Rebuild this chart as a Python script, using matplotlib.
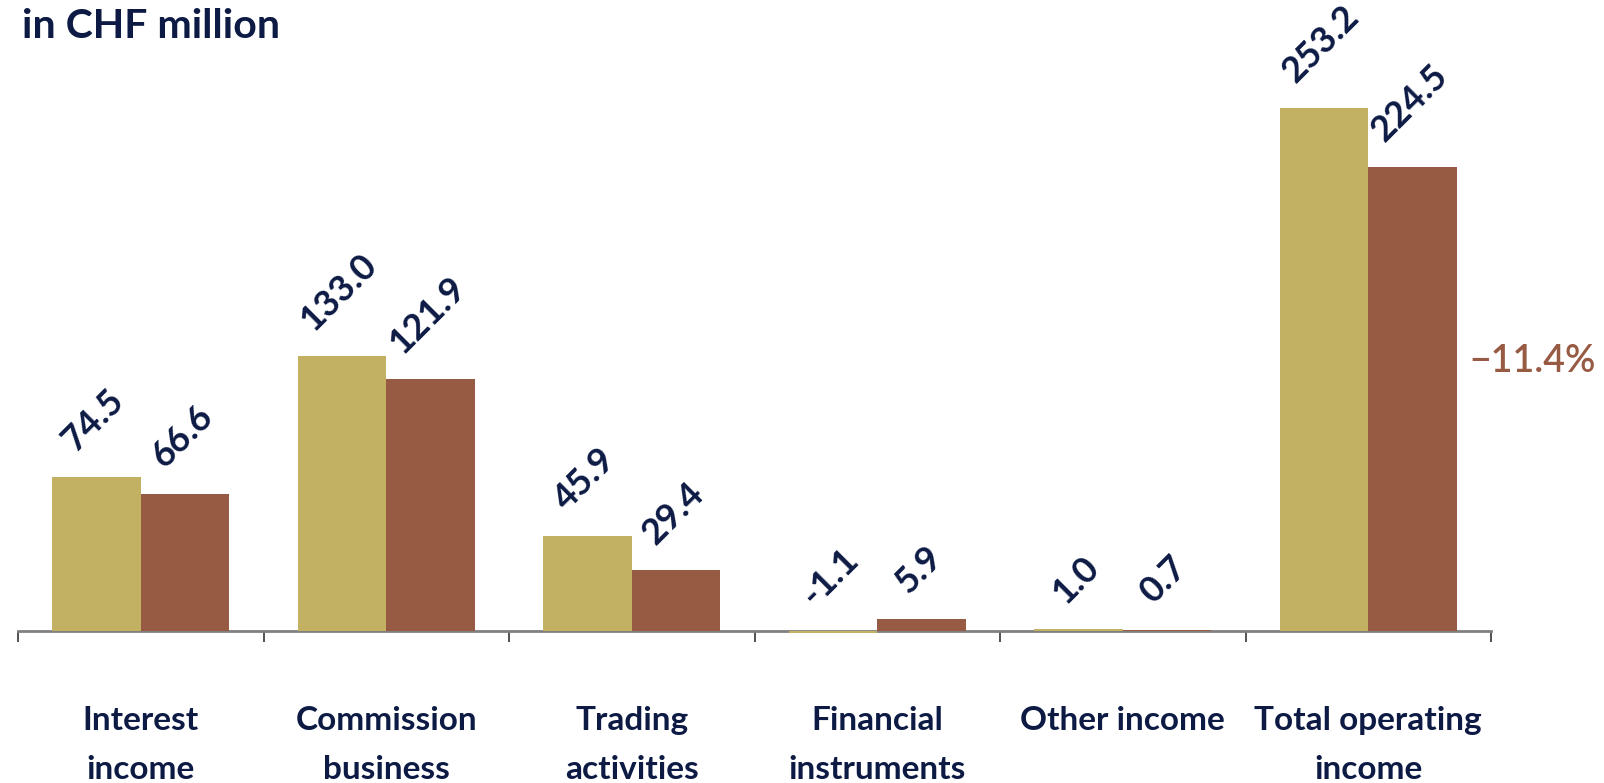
import numpy as np
import matplotlib.pyplot as plt
from matplotlib.transforms import offset_copy

# data
categories = ["Interest\nincome", "Commission\nbusiness", "Trading\nactivities",
              "Financial\ninstruments", "Other income", "Total operating\nincome"]
prev_year = [74.5, 133.0, 45.9, -1.1, 1.0, 253.2]
curr_year = [66.6, 121.9, 29.4, 5.9, 0.7, 224.5]
labels_prev = ["74.5", "133.0", "45.9", "-1.1", "1.0", "253.2"]
labels_curr = ["66.6", "121.9", "29.4", "5.9", "0.7", "224.5"]
change_text = "\u221211.4%"

navy = "#0c1a44"
gold = "#c3b163"
brown = "#975a43"

plt.rcParams['font.family'] = ['Lato', 'DejaVu Sans']

fig = plt.figure(figsize=(16.04, 7.83), dpi=100)
ax = fig.add_axes([18 / 1604, 0.1677, (1491 - 18) / 1604, 0.8176])

x = np.arange(len(categories))
w = 0.36
ax.bar(x - w / 2, prev_year, w, color=gold, zorder=3)
ax.bar(x + w / 2, curr_year, w, color=brown, zorder=3)

ax.set_xlim(-0.5, len(categories) - 0.5)
ax.set_ylim(-10, 300)

for s in ["top", "right", "left"]:
    ax.spines[s].set_visible(False)
ax.spines["bottom"].set_position(("data", 0))
ax.spines["bottom"].set_color("#808080")
ax.spines["bottom"].set_linewidth(2)
ax.set_yticks([])
ax.set_xticks(np.arange(-0.5, len(categories), 1.0))
ax.set_xticklabels([])
ax.tick_params(axis="x", which="major", direction="out", length=8, width=1.2, color="#333333")
ax.set_xticks(x, minor=True)
ax.set_xticklabels(categories, minor=True, fontsize=24, fontweight="bold",
                   color=navy, linespacing=1.82, va="top")
ax.tick_params(axis="x", which="minor", length=0, pad=54)

# value labels, centred over each bar
for i in range(len(categories)):
    for off, v, lab in [(-w / 2, prev_year[i], labels_prev[i]), (w / 2, curr_year[i], labels_curr[i])]:
        tr = offset_copy(ax.transData, fig=fig, x=-3, y=20, units="dots")
        ax.text(x[i] + off, max(v, 0), lab, transform=tr, rotation=45,
                ha="center", va="bottom",
                fontsize=26, fontweight="bold", color=navy)

fig.text(22 / 1604, 1 - 27 / 783, "in CHF million", fontsize=29.5, fontweight="bold",
         color=navy, ha="left", va="center")
fig.text(1469 / 1604, 1 - 362 / 783, change_text, fontsize=27, fontweight="semibold",
         color=brown, ha="left", va="center")

fig.savefig("out.png", dpi=100)
